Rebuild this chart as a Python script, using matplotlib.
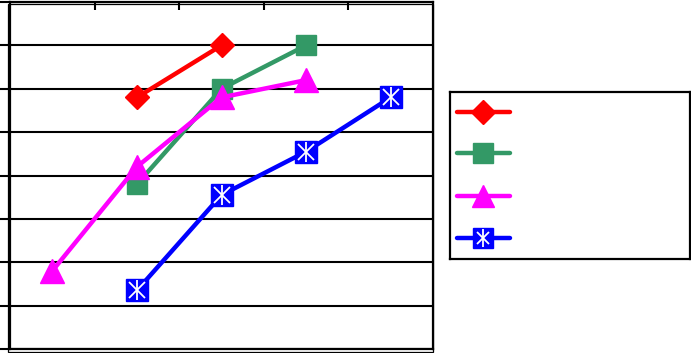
import matplotlib.pyplot as plt
from matplotlib.patches import Rectangle

# Data (5 categories, no labels shown)
red_x = [2, 3]
red_y = [5.8, 7.0]

green_x = [2, 3, 4]
green_y = [3.8, 6.0, 7.0]

pink_x = [1, 2, 3, 4]
pink_y = [1.8, 4.2, 5.8, 6.2]

blue_x = [2, 3, 4, 5]
blue_y = [1.35, 3.55, 4.55, 5.8]

RED = "#FF0000"
GREEN = "#339966"
PINK = "#FF00FF"
BLUE = "#0000FF"
LW = 3.2

fig = plt.figure(figsize=(6.91, 3.53), dpi=100)
ax = fig.add_axes([10 / 691, 4 / 353, 423 / 691, 347 / 353])

ax.plot(red_x, red_y, color=RED, lw=LW, marker="D", ms=12, mec=RED, zorder=5)
ax.plot(green_x, green_y, color=GREEN, lw=LW, marker="s", ms=15, mec=GREEN, zorder=4)
ax.plot(pink_x, pink_y, color=PINK, lw=LW, marker="^", ms=17, mec=PINK, zorder=6)
ax.plot(blue_x, blue_y, color=BLUE, lw=LW, marker="s", ms=16, mec=BLUE, zorder=5)
# white star on the blue squares
ax.plot(blue_x, blue_y, ls="none", marker="x", ms=11, mec="white", mew=1.3, zorder=7)
ax.plot(blue_x, blue_y, ls="none", marker="|", ms=15, mec="white", mew=1.3, zorder=7)

ax.set_xlim(0.5, 5.5)
ax.set_ylim(0, 8)
ax.set_yticks(range(0, 9))
ax.set_xticks([1.5, 2.5, 3.5, 4.5])
ax.set_yticklabels([])
ax.set_xticklabels([])
ax.xaxis.tick_top()
ax.tick_params(axis="x", direction="in", length=6, width=1.5, color="black")
ax.tick_params(axis="y", direction="out", length=7, width=1.5, color="black")
ax.grid(axis="y", color="black", lw=1.5)
ax.set_axisbelow(True)
for s in ax.spines.values():
    s.set_linewidth(1.6)
    s.set_color("black")

# thin outer frame, slightly offset
fig.patches.append(Rectangle((7.5 / 691, 1 / 353), 425 / 691, 348 / 353,
                             transform=fig.transFigure, fill=False,
                             ec="black", lw=0.9, zorder=0))

# legend box, drawn by hand (no labels in the original)
lg = fig.add_axes([450 / 691, 94 / 353, 240 / 691, 167 / 353])
lg.set_xlim(0, 1)
lg.set_ylim(0, 1)
lg.set_xticks([])
lg.set_yticks([])
for s in lg.spines.values():
    s.set_linewidth(1.6)
lx = [0.03, 0.1375, 0.25]
entries = [
    (0.88, RED, "D", 12),
    (0.635, GREEN, "s", 14),
    (0.377, PINK, "^", 16),
    (0.126, BLUE, "s", 14),
]
for yy, c, m, ms in entries:
    lg.plot(lx, [yy] * 3, color=c, lw=LW, solid_capstyle="round",
            marker=m, ms=ms, mec=c, markevery=[1])
lg.plot([lx[1]], [0.126], marker="x", ms=9, mec="white", mew=1.3)
lg.plot([lx[1]], [0.126], marker="|", ms=13, mec="white", mew=1.3)

fig.savefig("out.png", dpi=100)
